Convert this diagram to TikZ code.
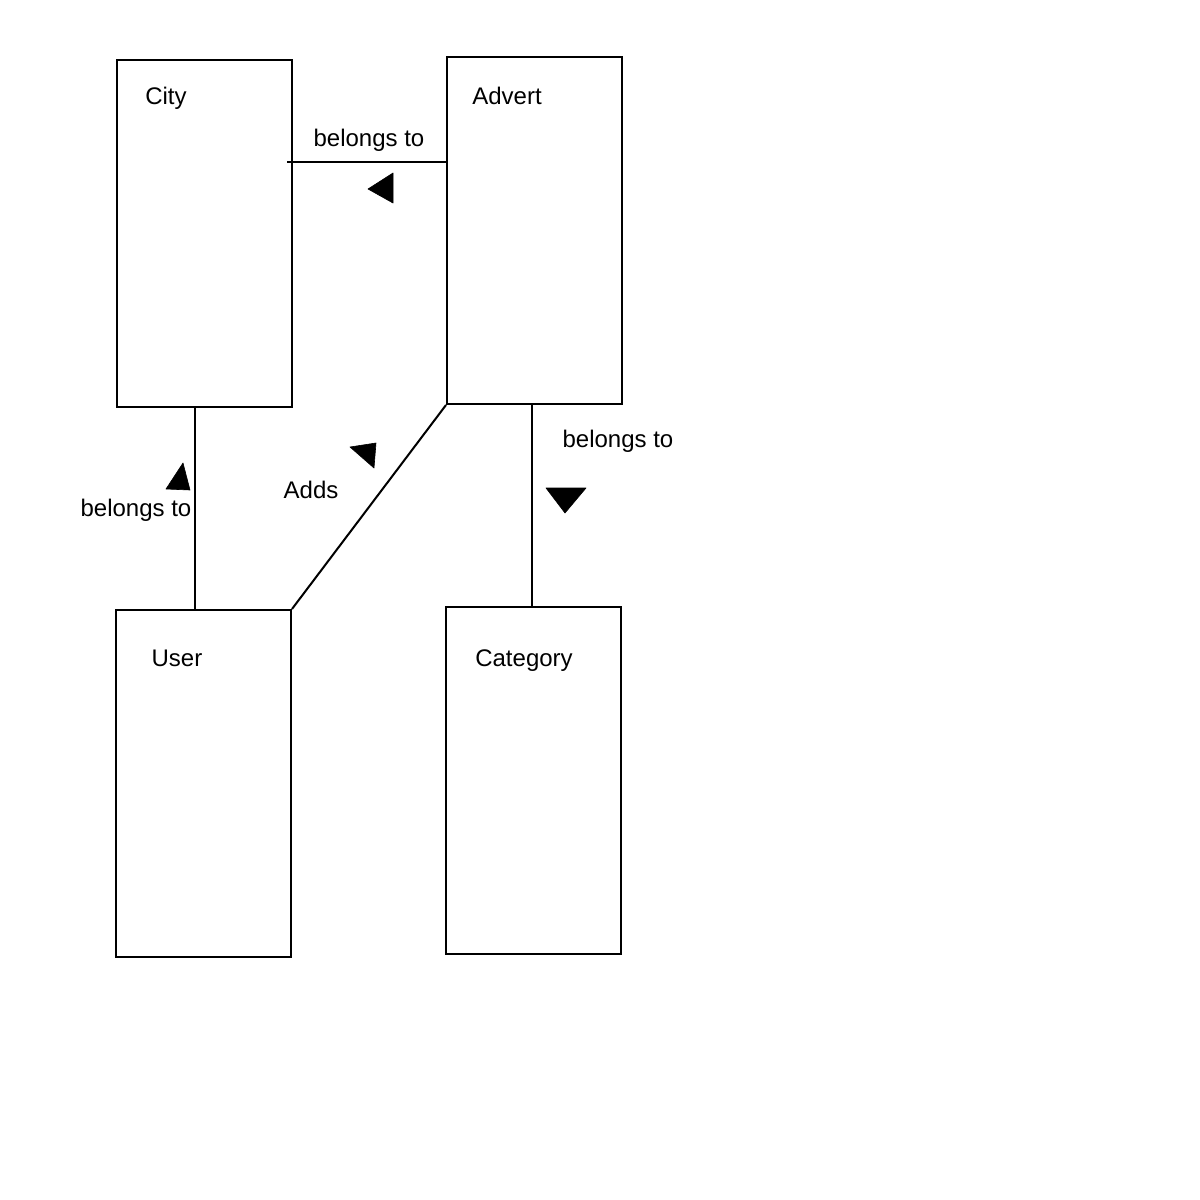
\documentclass[tikz,border=0pt]{standalone}
\usepackage{fontspec}
\setmainfont{Liberation Sans}
\begin{document}
\begin{tikzpicture}[x=1pt,y=-1pt,
  entity/.style={draw,line width=2pt,minimum width=175pt,minimum height=347pt,inner sep=0pt},
  txt/.style={font=\fontsize{24}{28}\selectfont,inner sep=0pt,text height=17.5pt,text depth=0pt},
  conn/.style={line width=2pt},
  tri/.style={fill=black,draw=black,line width=0.6pt,line join=round}]
\useasboundingbox (0,0) rectangle (1200,1200);
\fill[white] (0,0) rectangle (1200,1200);
\node[entity] (city) at (204.5,233.5) {};
\node[entity] (advert) at (534.5,230.5) {};
\node[entity] (user) at (203.5,783.5) {};
\node[entity] (category) at (533.5,780.5) {};
\node[txt] (cityT) at (166,96) {City};
\node[txt] (advertT) at (507,96) {Advert};
\node[txt] (userT) at (177,658) {User};
\node[txt] (categoryT) at (524,658) {Category};
\coordinate (c1) at (287,162);
\coordinate (a1) at (advert.west |- c1);
\draw[conn] (c1) -- (a1);
\draw[conn] (city.south -| 195,0) -- (user.north -| 195,0);
\draw[conn] (advert.south west) -- (user.north east);
\draw[conn] (advert.south -| 532,0) -- (category.north -| 532,0);
\node[txt] (l1) at (369,138) {belongs to};
\node[txt] (l2) at (618,439) {belongs to};
\node[txt] (l3) at (136,508) {belongs to};
\node[txt] (l4) at (311,490) {Adds};
\filldraw[tri] (368,189) -- (393,173) -- (393,203) -- cycle;
\filldraw[tri] (350,447) -- (376,443) -- (374,468) -- cycle;
\filldraw[tri] (546,488) -- (586,488) -- (565,513) -- cycle;
\filldraw[tri] (183,463) -- (166,489) -- (190,490) -- cycle;
\end{tikzpicture}
\end{document}
